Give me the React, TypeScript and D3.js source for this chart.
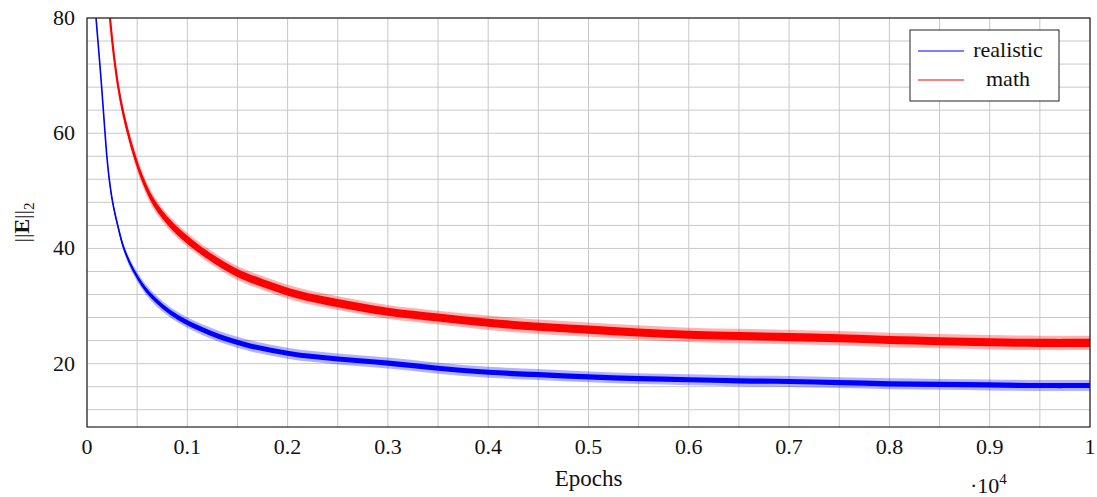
import React from "react";
import * as d3 from "d3";

// epochs are in units of 10^4
const realisticX = [0.009, 0.0109, 0.0128, 0.0146, 0.0163, 0.018, 0.0198, 0.0222, 0.0256, 0.0306, 0.0368, 0.047, 0.0628, 0.091, 0.144, 0.2, 0.25, 0.3, 0.35, 0.4, 0.45, 0.5, 0.55, 0.6, 0.65, 0.7, 0.75, 0.8, 0.85, 0.9, 0.95, 1.0];
const realisticY = [80, 76, 72, 68, 64, 60, 56, 52, 48, 44, 40, 36, 32, 28, 24, 21.8, 20.8, 20.1, 19.2, 18.5, 18.1, 17.7, 17.4, 17.2, 17.0, 16.9, 16.7, 16.5, 16.4, 16.3, 16.2, 16.2];
// half-width of the noisy band (core) and of its spikes
const realisticSpread = [0.15, 0.15, 0.15, 0.2, 0.2, 0.2, 0.25, 0.25, 0.3, 0.3, 0.35, 0.4, 0.45, 0.45, 0.45, 0.45, 0.45, 0.45, 0.45, 0.45, 0.45, 0.45, 0.45, 0.45, 0.45, 0.45, 0.45, 0.45, 0.45, 0.45, 0.45, 0.45];
const realisticSpike = [0.3, 0.3, 0.3, 0.35, 0.35, 0.4, 0.45, 0.5, 0.55, 0.6, 0.7, 0.8, 0.9, 0.9, 0.95, 0.95, 0.95, 0.95, 0.95, 0.95, 0.95, 0.95, 0.95, 0.95, 0.95, 0.95, 0.95, 0.95, 0.95, 0.95, 0.95, 0.95];

const mathX = [0.0229, 0.0252, 0.0279, 0.0312, 0.0355, 0.041, 0.0475, 0.0555, 0.0665, 0.0844, 0.111, 0.147, 0.175, 0.21, 0.25, 0.3, 0.35, 0.4, 0.45, 0.5, 0.55, 0.6, 0.65, 0.7, 0.75, 0.8, 0.85, 0.9, 0.95, 1.0];
const mathY = [80, 76, 72, 68, 64, 60, 56, 52, 48, 44, 40, 36, 34, 32, 30.5, 29.0, 28.0, 27.1, 26.4, 25.9, 25.4, 25.0, 24.8, 24.6, 24.4, 24.1, 23.9, 23.7, 23.6, 23.6];
const mathSpread = [0.5, 0.5, 0.55, 0.55, 0.6, 0.6, 0.65, 0.65, 0.7, 0.7, 0.7, 0.7, 0.7, 0.7, 0.7, 0.7, 0.7, 0.7, 0.7, 0.7, 0.7, 0.7, 0.7, 0.7, 0.7, 0.7, 0.7, 0.7, 0.7, 0.7];
const mathSpike = [0.9, 0.9, 1.0, 1.0, 1.1, 1.1, 1.2, 1.2, 1.2, 1.2, 1.2, 1.2, 1.2, 1.2, 1.2, 1.2, 1.2, 1.25, 1.25, 1.25, 1.25, 1.25, 1.25, 1.25, 1.25, 1.25, 1.25, 1.25, 1.25, 1.25];

const xTicks = [0, 0.1, 0.2, 0.3, 0.4, 0.5, 0.6, 0.7, 0.8, 0.9, 1];
const yTicks = [20, 40, 60, 80];
const xGrid = [0, 0.05, 0.1, 0.15, 0.2, 0.25, 0.3, 0.35, 0.4, 0.45, 0.5, 0.55, 0.6, 0.65, 0.7, 0.75, 0.8, 0.85, 0.9, 0.95, 1];
const yGrid = [12, 16, 20, 24, 28, 32, 36, 40, 44, 48, 52, 56, 60, 64, 68, 72, 76, 80];

const series = [
  { name: "realistic", color: "#0000ff", xs: realisticX, ys: realisticY, sp: realisticSpread, sk: realisticSpike },
  { name: "math", color: "#ff0000", xs: mathX, ys: mathY, sp: mathSpread, sk: mathSpike },
];

const FONT = "'Liberation Serif', 'DejaVu Serif', serif";

type Pt = { x: number; y: number; sp: number; sk: number };

export default function App() {
  const width = 1097;
  const height = 497;
  const margin = { top: 18, right: 7, bottom: 70, left: 87 };
  const innerW = width - margin.left - margin.right;
  const innerH = height - margin.top - margin.bottom;

  const x = d3.scaleLinear().domain([0, 1]).range([0, innerW]);
  const y = d3.scaleLinear().domain([9, 80]).range([innerH, 0]);

  const curve = d3.curveCatmullRom.alpha(0.5);
  const ln = d3
    .line<Pt>()
    .x((d) => x(d.x))
    .y((d) => y(d.y))
    .curve(curve);
  const band = (key: "sp" | "sk") =>
    d3
      .area<Pt>()
      .x((d) => x(d.x))
      .y0((d) => y(d.y - d[key]))
      .y1((d) => y(d.y + d[key]))
      .curve(curve);

  return (
    <svg width={width} height={height} style={{ position: "absolute", left: 0, top: 0 }} fontFamily={FONT}>
      <defs>
        <clipPath id="plot">
          <rect x={0} y={0} width={innerW} height={innerH} />
        </clipPath>
      </defs>
      <g transform={`translate(${margin.left},${margin.top})`}>
        {xGrid.map((v, i) => (
          <line key={"gx" + i} x1={x(v)} x2={x(v)} y1={0} y2={innerH} stroke="#c8c8c8" strokeWidth={1} />
        ))}
        {yGrid.map((v, i) => (
          <line key={"gy" + i} x1={0} x2={innerW} y1={y(v)} y2={y(v)} stroke="#c8c8c8" strokeWidth={1} />
        ))}

        <g clipPath="url(#plot)">
          {series.map((s) => {
            const pts: Pt[] = s.xs.map((xv, i) => ({ x: xv, y: s.ys[i], sp: s.sp[i], sk: s.sk[i] }));
            return (
              <g key={s.name}>
                <path d={band("sk")(pts) || ""} fill={s.color} opacity={0.3} />
                <path d={band("sp")(pts) || ""} fill={s.color} />
                <path d={ln(pts) || ""} fill="none" stroke={s.color} strokeWidth={s.name === "math" ? 2.2 : 1.6} />
              </g>
            );
          })}
        </g>

        <rect x={0} y={0} width={innerW} height={innerH} fill="none" stroke="#222" strokeWidth={1.2} />

        {xTicks.map((v) => (
          <text key={"xt" + v} x={x(v)} y={innerH + 27} textAnchor="middle" fontSize={22} fill="#111">
            {v === 0 || v === 1 ? String(v) : v.toFixed(1)}
          </text>
        ))}
        {yTicks.map((v) => (
          <text key={"yt" + v} x={-12} y={y(v) + 7} textAnchor="end" fontSize={22} fill="#111">
            {v}
          </text>
        ))}

        <text x={innerW / 2} y={innerH + 59} textAnchor="middle" fontSize={23} fill="#111">
          Epochs
        </text>
        <text x={883} y={innerH + 66} fontSize={22} fill="#111">
          ·10<tspan dy={-9} fontSize={15}>4</tspan>
        </text>

        <text transform={`translate(${-58},${innerH / 2}) rotate(-90)`} textAnchor="middle" fontSize={22} fill="#111">
          ||<tspan fontWeight="bold">E</tspan>||<tspan dy={5} fontSize={15}>2</tspan>
        </text>

        <g transform={`translate(${910 - margin.left},${30 - margin.top})`}>
          <rect x={0} y={0} width={149} height={71} fill="#fff" stroke="#222" strokeWidth={1} />
          {series.map((s, i) => (
            <g key={"lg" + s.name} transform={`translate(0,${21 + i * 29})`}>
              <line x1={8} x2={54} y1={0} y2={0} stroke={s.color} strokeWidth={1} />
              <text x={98} y={6} textAnchor="middle" fontSize={22} fill="#111">
                {s.name}
              </text>
            </g>
          ))}
        </g>
      </g>
    </svg>
  );
}
